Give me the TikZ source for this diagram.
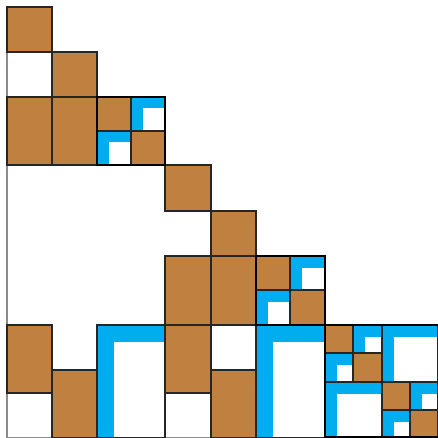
\documentclass[tikz,border=0pt]{standalone}
\definecolor{brownc}{RGB}{192,128,64}
\definecolor{bluec}{RGB}{0,174,239}
\tikzset{
  thinl/.style={draw=black!85, line width=1.1pt},
  thickl/.style={draw=black, line width=2.6pt},
  framel/.style={draw=black!45, line width=1.4pt},
}
\newcommand\BrownBox[4]{\fill[brownc] (#1,#2) rectangle (#3,#4); \draw[thinl] (#1,#2) rectangle (#3,#4);}
\newcommand\BlueL[5]{\fill[bluec] (#1,#2) rectangle (#3,#4); \fill[white] ({#1+#5},{#2+#5}) rectangle (#3,#4); \draw[thinl] (#1,#2) rectangle (#3,#4);}
\begin{document}
\begin{tikzpicture}[x=1pt,y=-1pt]
\useasboundingbox (0,0) rectangle (438,438);
\clip (0,0) rectangle (438,438);
\fill[white] (0,0) rectangle (438,438);
% frame
\draw[framel] (7,7) -- (7,437.5) -- (438,437.5);
% top block
\BrownBox{7}{7}{52}{52}
\BrownBox{52}{52}{97}{97}
\BrownBox{7}{97}{52}{165}
\BrownBox{52}{97}{97}{165}
\BrownBox{97}{97}{131}{131}
\BrownBox{131}{131}{165}{165}
\BlueL{131}{97}{165}{131}{11.5}
\BlueL{97}{131}{131}{165}{11.5}
% middle block
\BrownBox{165}{165}{211}{211}
\BrownBox{211}{211}{256}{256}
\BrownBox{165}{256}{211}{325}
\BrownBox{211}{256}{256}{325}
\BrownBox{256}{256}{290}{290}
\BrownBox{290}{290}{325}{325}
\BlueL{290}{256}{325}{290}{11.5}
\BlueL{256}{290}{290}{325}{11.5}
% bottom row
\BrownBox{7}{325}{52}{393}
\BrownBox{52}{370}{97}{438}
\BlueL{97}{325}{165}{438}{17}
\BrownBox{165}{325}{211}{393}
\BrownBox{211}{370}{256}{438}
\BlueL{256}{325}{325}{438}{17}
% bottom-right block
\BrownBox{325}{325}{353}{353}
\BlueL{353}{325}{382}{353}{11.5}
\BlueL{325}{353}{353}{382}{11.5}
\BrownBox{353}{353}{382}{382}
\BlueL{382}{325}{438}{382}{11.5}
\BlueL{325}{382}{382}{438}{11.5}
\BrownBox{382}{382}{410}{410}
\BlueL{410}{382}{438}{410}{11.5}
\BlueL{382}{410}{410}{438}{11.5}
\BrownBox{410}{410}{438}{438}
% thick outlines
\draw[thickl] (97,97) rectangle (165,165);
\draw[thickl] (256,256) rectangle (325,325);
\draw[thickl] (325,325) rectangle (439,437.5);
\end{tikzpicture}
\end{document}
